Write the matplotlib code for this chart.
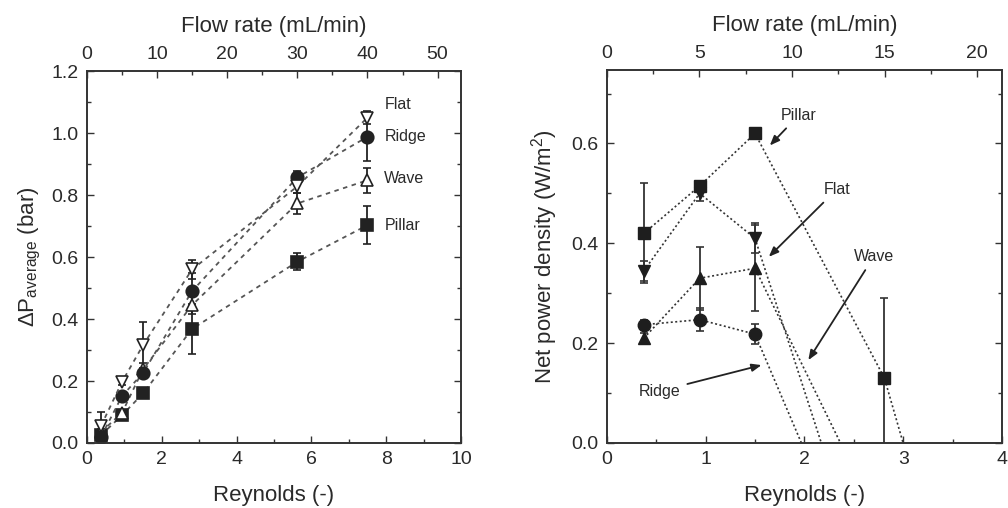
import numpy as np
import matplotlib
matplotlib.use("Agg")
import matplotlib.pyplot as plt
from matplotlib.ticker import MultipleLocator

plt.rcParams['font.family'] = ['Liberation Sans', 'DejaVu Sans']
plt.rcParams['mathtext.fontset'] = 'custom'
plt.rcParams['mathtext.rm'] = 'Liberation Sans'
plt.rcParams['mathtext.it'] = 'Liberation Sans:italic'

TXT = '#2a2a2a'

# ---------------- data (left: pressure drop) ----------------
re_left = [0.375, 0.94, 1.5, 2.81, 5.625, 7.5]
dp_flat = [0.055, 0.198, 0.316, 0.560, 0.828, 1.050]
dp_flat_err = [0.045, 0.010, 0.075, 0.030, 0.020, 0.020]
dp_ridge = [0.020, 0.152, 0.226, 0.490, 0.857, 0.988]
dp_ridge_err = [0.010, 0.010, 0.010, 0.060, 0.020, 0.077]
dp_wave = [0.035, 0.098, 0.238, 0.445, 0.773, 0.848]
dp_wave_err = [0.010, 0.010, 0.020, 0.030, 0.035, 0.040]
dp_pillar = [0.025, 0.090, 0.160, 0.368, 0.585, 0.703]
dp_pillar_err = [0.010, 0.010, 0.010, 0.080, 0.027, 0.062]

# ---------------- data (right: net power density) ----------------
re_right = [0.375, 0.94, 1.5, 2.81, 5.625]
pd_pillar = [0.420, 0.515, 0.620, 0.130, -1.80]
pd_pillar_err = [0.100, 0.0, 0.0, 0.160, 0.0]
pd_flat = [0.345, 0.500, 0.410, -0.390]
pd_flat_err = [0.020, 0.015, 0.030, 0.0]
pd_wave = [0.210, 0.330, 0.350, -0.180]
pd_wave_err = [0.010, 0.063, 0.086, 0.0]
pd_ridge = [0.237, 0.247, 0.218, -0.390]
pd_ridge_err = [0.010, 0.023, 0.020, 0.0]

re_per_flow = 0.1875  # Reynolds per mL/min

fig = plt.figure(figsize=(10.08, 5.08), dpi=100)
axL = fig.add_axes([0.0863, 0.128, 0.371, 0.732])
axR = fig.add_axes([0.602, 0.128, 0.392, 0.734])


def style_axis(ax):
    for s in ax.spines.values():
        s.set_color('#333333')
        s.set_linewidth(1.2)
    ax.tick_params(which='both', direction='in', colors='#333333',
                   labelcolor=TXT, labelsize=14, width=1.0, pad=6)
    ax.tick_params(which='major', length=5)
    ax.tick_params(which='minor', length=3)


def err_draw(ax, x, y, e, color):
    x = np.asarray(x[:len(y)], float)
    y = np.asarray(y, float)
    e = np.asarray(e, float)
    m = e > 0
    ax.errorbar(x[m], y[m], yerr=e[m], fmt='none', ecolor=color,
                elinewidth=1.3, capsize=3, capthick=1.2, zorder=2)


# ---------------- left panel ----------------
lc = '#555555'
mc = '#222222'
series_left = [
    (dp_pillar, dp_pillar_err, 's', mc, 'Pillar'),
    (dp_wave, dp_wave_err, '^', 'white', 'Wave'),
    (dp_ridge, dp_ridge_err, 'o', mc, 'Ridge'),
    (dp_flat, dp_flat_err, 'v', 'white', 'Flat'),
]
for y, e, mk, fc, name in series_left:
    err_draw(axL, re_left, y, e, mc)
    axL.plot(re_left, y, linestyle=(0, (2.5, 2.5)), color=lc, lw=1.3,
             marker=mk, markersize=9, markerfacecolor=fc,
             markeredgecolor=mc, markeredgewidth=1.2, zorder=3)

label_y_left = {'Flat': 1.093, 'Ridge': 0.988, 'Wave': 0.854, 'Pillar': 0.703}
for name, yy in label_y_left.items():
    axL.text(7.95, yy, name, fontsize=11.5, color=TXT, ha='left', va='center')

axL.set_xlim(0, 10)
axL.set_ylim(0, 1.2)
axL.xaxis.set_major_locator(MultipleLocator(2))
axL.xaxis.set_minor_locator(MultipleLocator(1))
axL.yaxis.set_major_locator(MultipleLocator(0.2))
axL.yaxis.set_minor_locator(MultipleLocator(0.1))
axL.yaxis.set_major_formatter(plt.FuncFormatter(lambda v, p: f'{v:.1f}'))
style_axis(axL)
axL.tick_params(which='both', right=True)
axL.set_xlabel('Reynolds (-)', fontsize=16, color=TXT, labelpad=12)
axL.set_ylabel(r'$\Delta$P$_{\mathrm{average}}$ (bar)', fontsize=16,
               color=TXT, labelpad=6)

axLt = axL.twiny()
axLt.set_xlim(0, 10 / re_per_flow)
axLt.xaxis.set_major_locator(MultipleLocator(10))
axLt.xaxis.set_minor_locator(MultipleLocator(5))
style_axis(axLt)
axLt.set_xlabel('Flow rate (mL/min)', fontsize=16, color=TXT, labelpad=10)

# ---------------- right panel ----------------
dc = '#1e1e1e'
series_right = [
    (pd_ridge, pd_ridge_err, 'o'),
    (pd_wave, pd_wave_err, '^'),
    (pd_flat, pd_flat_err, 'v'),
    (pd_pillar, pd_pillar_err, 's'),
]
for y, e, mk in series_right:
    err_draw(axR, re_right, y, e, '#333333')
    axR.plot(re_right[:len(y)], y, linestyle=(0, (1.2, 1.5)), color='#333333',
             lw=1.2, marker=mk, markersize=9, markerfacecolor=dc,
             markeredgecolor=dc, zorder=3)

annots = [
    ('Pillar', (1.944, 0.657), (1.65, 0.596)),
    ('Flat', (2.327, 0.508), (1.64, 0.373)),
    ('Wave', (2.705, 0.374), (2.04, 0.166)),
    ('Ridge', (0.535, 0.104), (1.566, 0.156)),
]
for name, txy, axy in annots:
    axR.annotate(name, xy=axy, xytext=txy, fontsize=11.5, color=TXT,
                 ha='center', va='center',
                 arrowprops=dict(arrowstyle='-|>,head_length=0.5,head_width=0.2',
                                 color='#222222', lw=1.3,
                                 shrinkA=3, shrinkB=0))

axR.set_xlim(0, 4)
axR.set_ylim(0, 0.747)
axR.xaxis.set_major_locator(MultipleLocator(1))
axR.xaxis.set_minor_locator(MultipleLocator(0.5))
axR.yaxis.set_major_locator(MultipleLocator(0.2))
axR.yaxis.set_minor_locator(MultipleLocator(0.1))
axR.yaxis.set_major_formatter(plt.FuncFormatter(lambda v, p: f'{v:.1f}'))
style_axis(axR)
axR.tick_params(which='both', right=True)
axR.set_xlabel('Reynolds (-)', fontsize=16, color=TXT, labelpad=12)
axR.set_ylabel(r'Net power density (W/m$^2$)', fontsize=16, color=TXT,
               labelpad=8)

axRt = axR.twiny()
axRt.set_xlim(0, 4 / re_per_flow)
axRt.xaxis.set_major_locator(MultipleLocator(5))
axRt.xaxis.set_minor_locator(MultipleLocator(2.5))
style_axis(axRt)
axRt.set_xlabel('Flow rate (mL/min)', fontsize=16, color=TXT, labelpad=10)

fig.savefig('out.png', dpi=100)
